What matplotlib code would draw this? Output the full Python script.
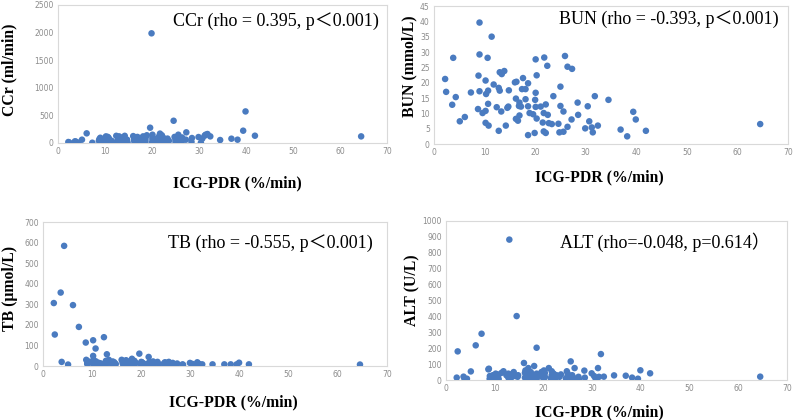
import matplotlib
matplotlib.use("Agg")
import matplotlib.pyplot as plt

# ICG-PDR (%/min), shared x for all four panels
icg = [2.2, 2.4, 3.6, 3.8, 4.3, 5.1, 6.1, 7.3, 8.7, 8.8,
       9.0, 9.0, 9.0, 9.6, 10.2, 10.2, 10.2, 10.3, 10.6, 10.7,
       10.7, 10.8, 11.4, 11.8, 12.4, 12.8, 12.8, 13.0, 13.0, 13.3,
       13.4, 13.9, 14.2, 14.5, 14.7, 14.8, 16.0, 16.2, 16.2, 16.3,
       16.6, 16.8, 16.9, 16.9, 17.2, 17.4, 17.6, 18.1, 18.1, 18.6,
       18.6, 18.6, 18.9, 19.6, 19.9, 20.0, 20.1, 20.1, 20.1, 20.3,
       20.3, 21.1, 21.5, 21.7, 21.7, 21.8, 22.1, 22.1, 22.4, 22.5,
       22.7, 23.3, 23.6, 24.6, 24.8, 25.0, 25.0, 25.6, 25.6, 25.9,
       26.4, 26.4, 27.2, 27.3, 28.4, 28.5, 29.9, 30.4, 30.7, 31.2,
       31.4, 31.8, 32.4, 34.5, 36.9, 38.2, 39.4, 39.9, 41.9, 64.5]

ccr = [18, 10, 30, 25, 5, 60, 175, 5, 40, 70,
       20, 95, 10, 55, 120, 30, 80, 5, 110, 60,
       15, 90, 40, 10, 130, 70, 25, 120, 55, 100,
       35, 85, 130, 20, 60, 10, 125, 45, 90, 15,
       70, 100, 30, 110, 55, 5, 80, 120, 40, 95,
       20, 60, 140, 277, 1987, 10, 65, 150, 100, 30,
       85, 40, 120, 10, 170, 60, 140, 25, 95, 50,
       15, 80, 40, 403, 110, 60, 20, 150, 70, 30,
       100, 40, 60, 193, 20, 90, 108, 5, 80, 132,
       150, 163, 120, 54, 78, 60, 223, 572, 132, 120]

bun = [21.2, 17.0, 12.8, 28.1, 15.3, 7.4, 8.8, 16.8, 11.4, 22.3,
       39.6, 29.2, 17.2, 10.1, 20.7, 10.8, 6.9, 16.3, 28.1, 17.4,
       13.1, 6.0, 35.0, 19.4, 12.0, 18.3, 4.3, 23.4, 17.4, 10.6,
       22.8, 23.8, 6.0, 11.8, 12.2, 17.5, 20.1, 14.8, 8.2, 20.3,
       7.6, 12.4, 13.5, 9.3, 12.2, 17.9, 21.5, 17.9, 14.6, 19.8,
       12.3, 2.9, 10.1, 9.7, 3.6, 14.4, 27.6, 16.7, 12.1, 22.4,
       8.3, 12.2, 7.0, 10.1, 4.1, 28.2, 12.9, 3.6, 25.5, 9.5,
       6.8, 6.5, 15.6, 6.6, 3.8, 18.7, 12.4, 10.6, 4.0, 28.7,
       25.2, 5.6, 8.0, 24.5, 13.5, 9.5, 5.1, 12.3, 7.4, 5.4,
       3.8, 15.6, 6.0, 14.4, 4.7, 2.5, 10.5, 8.0, 4.3, 6.5]

tb = [306, 153, 357, 20, 584, 7, 296, 190, 114, 30,
      10, 25, 15, 20, 125, 49, 8, 30, 18, 85,
      10, 22, 15, 12, 140, 25, 8, 57, 15, 20,
      30, 12, 22, 18, 8, 10, 30, 15, 25, 8,
      20, 12, 28, 5, 15, 10, 22, 8, 35, 12,
      25, 5, 15, 60, 10, 20, 8, 12, 18, 5,
      15, 10, 44, 8, 20, 12, 5, 18, 22, 10,
      15, 20, 8, 12, 18, 10, 15, 8, 20, 12,
      10, 15, 8, 12, 8, 5, 15, 10, 5, 8,
      18, 10, 8, 8, 8, 8, 8, 16, 8, 7]

alt = [15, 180, 21, 8, 8, 54, 218, 291, 67, 71,
       10, 25, 5, 30, 15, 40, 8, 20, 35, 10,
       25, 5, 45, 55, 30, 15, 40, 883, 20, 10,
       35, 50, 25, 402, 20, 30, 107, 15, 45, 60,
       25, 10, 75, 35, 20, 50, 15, 88, 30, 203,
       5, 40, 25, 50, 15, 30, 60, 10, 35, 20,
       45, 75, 10, 30, 55, 20, 5, 40, 25, 15,
       30, 20, 35, 10, 55, 25, 40, 117, 15, 30,
       75, 10, 20, 5, 59, 15, 42, 25, 10, 75,
       20, 163, 21, 29, 27, 15, 8, 61, 42, 21]

W, H = 794, 420
fig = plt.figure(figsize=(W / 100, H / 100), dpi=100)
fig.patch.set_facecolor("white")

serif = ["Liberation Serif", "Noto Sans CJK SC", "DejaVu Serif"]
blue = "#4a7bc0"


def panel(box, y, ymax, ystep, ylabel, note, note_xy, ylab_xy, xlab_xy):
    x0, x1, top, bot = box
    ax = fig.add_axes([x0 / W, 1 - bot / H, (x1 - x0) / W, (bot - top) / H])
    ax.scatter(icg, y, s=22, color=blue, edgecolors="none", zorder=3)
    ax.set_xlim(0, 70)
    ax.set_ylim(0, ymax)
    ax.set_xticks(range(0, 71, 10))
    ax.set_yticks([v * ystep for v in range(int(round(ymax / ystep)) + 1)])
    ax.tick_params(length=0, labelsize=5.5, colors="#8c8c8c", pad=3)
    for sp in ax.spines.values():
        sp.set_color("#d9d9d9")
        sp.set_linewidth(0.8)
    fig.text(note_xy[0] / W, 1 - note_xy[1] / H, note, family=serif,
             fontsize=13, ha="left", va="center")
    fig.text(ylab_xy[0] / W, 1 - ylab_xy[1] / H, ylabel, family=serif,
             fontweight="bold", fontsize=11.3, rotation=90,
             ha="center", va="center")
    fig.text(xlab_xy[0] / W, 1 - xlab_xy[1] / H, "ICG-PDR (%/min)",
             family=serif, fontweight="bold", fontsize=11.3,
             ha="center", va="center")
    return ax


panel((58, 387, 5, 143), ccr, 2500, 500, "CCr (ml/min)",
      "CCr (rho = 0.395, p\uff1c0.001)", (173, 21), (9, 70), (237, 183))
panel((434, 788, 6, 144), bun, 45, 5, "BUN (mmol/L)",
      "BUN (rho = -0.393, p\uff1c0.001)", (559, 19), (409, 66), (599, 177))
panel((43, 387, 222, 366), tb, 700, 100, "TB (\u03bcmol/L)",
      "TB (rho = -0.555, p\uff1c0.001)", (168, 243), (10, 288), (233, 402))
panel((446, 787, 221, 380), alt, 1000, 100, "ALT (U/L)",
      "ALT (rho=-0.048, p=0.614\uff09", (560, 242), (412, 290), (599, 412))

fig.savefig("out.png", dpi=100)
